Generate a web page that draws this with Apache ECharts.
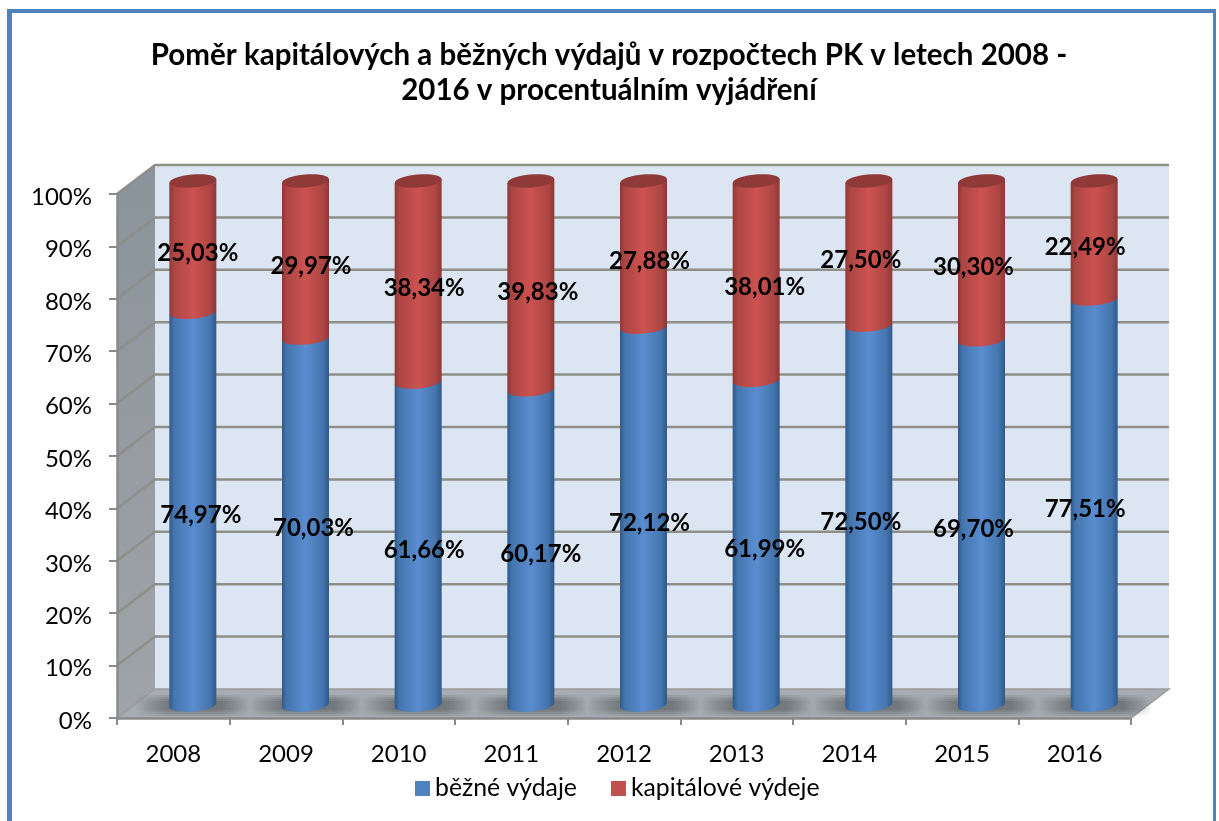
<!DOCTYPE html>
<html>
<head>
<meta charset="utf-8">
<title>Poměr kapitálových a běžných výdajů</title>
<script src="https://cdn.jsdelivr.net/npm/echarts@6/dist/echarts.min.js"></script>
<style>
  html, body { margin: 0; padding: 0; background: #fff; }
  #frame {
    position: absolute; left: 7px; top: 9px; width: 1209px; height: 812px;
    box-sizing: border-box; border: solid #4f81bd; border-width: 4px 3px 0 5px;
  }
  #chart { position: absolute; left: 0; top: 0; width: 1219px; height: 821px; }
</style>
</head>
<body>
<div id="frame"></div>
<div id="chart"></div>
<script>
const years = ['2008', '2009', '2010', '2011', '2012', '2013', '2014', '2015', '2016']
const bezneVydaje = [74.97, 70.03, 61.66, 60.17, 72.12, 61.99, 72.5, 69.7, 77.51]
const kapitaloveVydaje = [25.03, 29.97, 38.34, 39.83, 27.88, 38.01, 27.5, 30.3, 22.49]
const gridTicks = [0, 10, 20, 30, 40, 50, 60, 70, 80, 90, 100]
const titleText = 'Poměr kapitálových a běžných výdajů v rozpočtech PK v letech 2008 -\n2016 v procentuálním vyjádření'

const FONT = 'Lato'
// hloubka 3D steny
const DEPTH_X = 38
const DEPTH_Y = 29
const CYL_DX = 19.5
const CYL_DY = 13
const CYL_RX = 23.5
const CYL_RY = 6.5
const CYL_ROT = -5
// popisky jsou v originale rucne posunute vuci stredu valce
const blueLabelShift = [8, 8, 6, 10, 6, 8.5, -8, -8, -9]
const redLabelShift = [5, 5.5, 6, 7, 6, 8.5, -8, -8, -9]
// vrstvy mekkeho stinu na podlaze [odsazeni shora, vyska]
const shadowLayers = [[4, 21], [6, 17], [8, 13], [10, 9]]

let chart = echarts.init(document.getElementById('chart'), null, { renderer: 'canvas' })

// steny, podlaha a mrizka
function renderFrame(params, api) {
  let cs = params.coordSys
  let tick = api.value(1)
  let y = api.coord([0, tick])[1]
  let left = cs.x
  let right = cs.x + cs.width
  let children = []
  if (tick === 0) {
    let top = cs.y
    children.push({
      type: 'polygon',
      shape: { points: [[left + DEPTH_X, top - DEPTH_Y], [right + DEPTH_X, top - DEPTH_Y], [right + DEPTH_X, y - DEPTH_Y], [left + DEPTH_X, y - DEPTH_Y]] },
      style: { fill: '#dce6f2' }
    })
    children.push({
      type: 'polygon',
      shape: { points: [[left, top], [left + DEPTH_X, top - DEPTH_Y], [left + DEPTH_X, y - DEPTH_Y], [left, y]] },
      style: { fill: new echarts.graphic.LinearGradient(0, 0, 0, 1, [
        { offset: 0, color: '#8a939b' },
        { offset: 1, color: '#a0a4a8' }
      ]) }
    })
    children.push({
      type: 'polygon',
      shape: { points: [[left, y], [left + DEPTH_X, y - DEPTH_Y], [right + DEPTH_X, y - DEPTH_Y], [right, y]] },
      style: { fill: '#a6acb1', stroke: '#9a9a9a', lineWidth: 1.5 }
    })
    // stiny pod sloupci
    years.forEach((name, i) => {
      let c = api.coord([i, 0])
      shadowLayers.forEach(l => {
        children.push({
          type: 'rect',
          shape: { x: c[0] - 38, y: y - 27 + l[0], width: 115, height: l[1] },
          style: { fill: new echarts.graphic.LinearGradient(0, 0, 1, 0, [
            { offset: 0, color: 'rgba(70,72,74,0)' },
            { offset: 0.3, color: 'rgba(70,72,74,0.17)' },
            { offset: 0.75, color: 'rgba(70,72,74,0.17)' },
            { offset: 1, color: 'rgba(70,72,74,0)' }
          ]) }
        })
      })
    })
  } else {
    children.push({
      type: 'polyline',
      shape: { points: [[left, y], [left + DEPTH_X, y - DEPTH_Y], [right + DEPTH_X, y - DEPTH_Y]] },
      style: { fill: 'none', stroke: '#8f8f8a', lineWidth: 2.5 }
    })
  }
  return { type: 'group', children: children }
}

// jeden dil valce, dolni hrana je oblouk
function renderCylinder(params, api, colors, capColor, labelShift) {
  let idx = api.value(0)
  let base = api.value(1)
  let val = api.value(2)
  let p0 = api.coord([idx, base])
  let p1 = api.coord([idx, base + val])
  let cx = p0[0] + CYL_DX
  let yB = p0[1] - CYL_DY
  let yT = p1[1] - CYL_DY
  let dy = CYL_RX * Math.sin(-CYL_ROT * Math.PI / 180)
  let xL = cx - CYL_RX
  let xR = cx + CYL_RX
  let d = 'M' + xL + ' ' + (yT + dy) + 'L' + xL + ' ' + (yB + dy) +
    'A' + CYL_RX + ' ' + CYL_RY + ' ' + CYL_ROT + ' 0 0 ' + xR + ' ' + (yB - dy) +
    'L' + xR + ' ' + (yT - dy) + 'Z'
  let fill = new echarts.graphic.LinearGradient(xL, 0, xR, 0, [
    { offset: 0, color: colors[0] },
    { offset: 0.1, color: colors[1] },
    { offset: 0.5, color: colors[2] },
    { offset: 0.87, color: colors[1] },
    { offset: 1, color: colors[0] }
  ], true)
  let children = [{ type: 'path', shape: { pathData: d }, style: { fill: fill } }]
  if (capColor) {
    children.push({
      type: 'ellipse',
      shape: { cx: 0, cy: 0, rx: CYL_RX, ry: CYL_RY },
      x: cx,
      y: yT,
      rotation: -CYL_ROT * Math.PI / 180,
      style: { fill: capColor }
    })
  }
  children.push({
    type: 'text',
    z2: 10,
    x: cx + labelShift[idx],
    y: (yB + yT) / 2 + 7,
    style: {
      text: val.toFixed(2).replace('.', ',') + '%',
      fill: '#000',
      font: 'bold 24px ' + FONT,
      textAlign: 'center',
      textVerticalAlign: 'middle'
    }
  })
  return { type: 'group', children: children }
}

let option = {
  animation: false,
  title: {
    text: titleText,
    left: 604,
    top: 33,
    textAlign: 'center',
    textStyle: { fontFamily: FONT, fontSize: 29.5, fontWeight: 'bold', lineHeight: 35, color: '#000' }
  },
  legend: {
    data: ['běžné výdaje', 'kapitálové výdeje'],
    left: 415,
    top: 776,
    padding: 0,
    icon: 'rect',
    itemWidth: 15,
    itemHeight: 15,
    itemGap: 34,
    selectedMode: false,
    textStyle: { fontFamily: FONT, fontSize: 24.8, color: '#000' }
  },
  grid: { left: 117, right: 88, top: 194, bottom: 103 },
  xAxis: {
    type: 'category',
    data: years,
    z: 3,
    axisLine: { lineStyle: { color: '#8a8a8a', width: 2.5 } },
    axisTick: { show: true, length: 7, lineStyle: { color: '#8a8a8a', width: 2 } },
    axisLabel: { color: '#000', fontFamily: FONT, fontSize: 24, margin: 24 }
  },
  yAxis: {
    type: 'value',
    min: 0,
    max: 100,
    interval: 10,
    z: 3,
    axisLine: { show: true, lineStyle: { color: '#8a8a8a', width: 2.5 } },
    axisTick: { show: true, length: 8, lineStyle: { color: '#8a8a8a', width: 2 } },
    splitLine: { show: false },
    axisLabel: {
      margin: 25,
      formatter: v => '{t|' + v + '%}',
      rich: { t: { color: '#000', fontFamily: FONT, fontSize: 24, padding: [6, 0, 0, 0] } }
    }
  },
  series: [
    {
      name: 'frame',
      type: 'custom',
      z: 1,
      renderItem: renderFrame,
      data: gridTicks.map(t => [0, t]),
      encode: { x: 0, y: 1 },
      silent: true
    },
    {
      name: 'běžné výdaje',
      type: 'custom',
      z: 2,
      itemStyle: { color: '#4f81bd' },
      renderItem: (p, a) => renderCylinder(p, a, ['#30598a', '#4475ae', '#5a8dd0'], null, blueLabelShift),
      data: bezneVydaje.map((v, i) => [i, 0, v]),
      encode: { x: 0, y: 2 },
      silent: true
    },
    {
      name: 'kapitálové výdeje',
      type: 'custom',
      z: 2,
      itemStyle: { color: '#c0504d' },
      renderItem: (p, a) => renderCylinder(p, a, ['#8f3835', '#ac4643', '#cd5250'], '#8f3a38', redLabelShift),
      data: kapitaloveVydaje.map((v, i) => [i, bezneVydaje[i], v]),
      encode: { x: 0, y: 2 },
      silent: true
    }
  ]
}
chart.setOption(option)
</script>
</body>
</html>
